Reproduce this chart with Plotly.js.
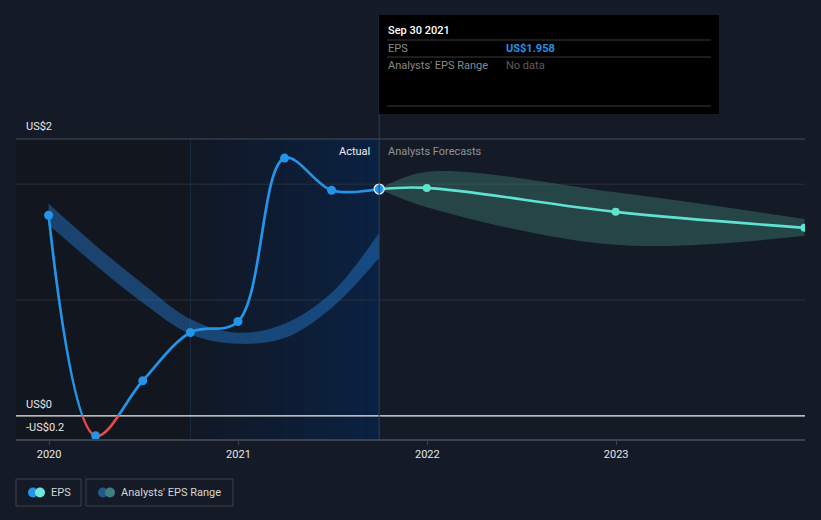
<!DOCTYPE html>
<html>
<head>
<meta charset="utf-8">
<script src="https://cdn.plot.ly/plotly-3.0.1.min.js"></script>
<style>
  html, body { margin: 0; padding: 0; background: #151b26; }
  #chart { width: 821px; height: 520px; }
</style>
</head>
<body>
<div id="chart"></div>
<script>
// ---- Data ----
const epsDates = ['2019-12-31','2020-03-31','2020-06-30','2020-09-30','2020-12-31','2021-03-31','2021-06-30','2021-09-30'];
const epsValues = [1.732, -0.173, 0.303, 0.719, 0.814, 2.225, 1.948, 1.958];

const pastRangeDates = ['2019-12-31','2020-03-31','2020-06-30','2020-09-30','2020-12-31','2021-03-31','2021-06-30','2021-09-30'];
const pastRangeHigh = [1.830, 1.470, 1.140, 0.835, 0.717, 0.795, 1.062, 1.580];
const pastRangeLow  = [1.649, 1.300, 0.976, 0.705, 0.622, 0.672, 0.932, 1.364];

const fcDates  = ['2021-09-30','2021-12-31','2022-12-31','2023-12-31'];
const fcValues = [1.958, 1.968, 1.761, 1.623];
const fcHigh   = [1.958, 2.107, 1.930, 1.700];
const fcLow    = [1.958, 1.800, 1.476, 1.554];

const xTickVals = ['2020-01-01','2021-01-01','2022-01-01','2023-01-01'];
const xTickText = ['2020','2021','2022','2023'];

const yGridVals = [1, 2];
const yLabelTexts = ['US$2', 'US$0', '-US$0.2'];

const pastRegion = ['2019-10-29', '2020-09-30'];
const actualRegion = ['2020-09-30', '2021-09-30'];
const todayDate = '2021-09-30';

const tooltip = { date: 'Sep 30 2021', eps: 'US$1.958', range: 'No data' };

// ---- Geometry ----
const W = 821, H = 520;
const M = { l: 16, r: 16, t: 139, b: 81 };
const plotW = W - M.l - M.r, plotH = H - M.t - M.b;
const yMin = -0.2, yMax = 2.39;
const zeroFrac = (0 - yMin) / (yMax - yMin);
const PX = px => (px - M.l) / plotW;
const PY = py => (H - M.b - py) / plotH;

const BLUE = '#2394e8', RED = '#e64a4a', TEAL = '#5fe3d0';
const FONT = 'Roboto, "Open Sans", Arial, sans-serif';

// ---- Shapes ----
const shapes = [];
shapes.push({ type: 'rect', xref: 'x', yref: 'paper', x0: pastRegion[0], x1: pastRegion[1], y0: 0, y1: 1,
  fillcolor: '#12161e', line: { width: 0 }, layer: 'below' });
(function () {
  const t0 = new Date(actualRegion[0]).getTime(), t1 = new Date(actualRegion[1]).getTime();
  const N = 48;
  const c0 = [17, 24, 36], c1 = [11, 33, 66];
  for (let i = 0; i < N; i++) {
    const f = (i + 0.5) / N;
    const c = c0.map((v, k) => Math.round(v + (c1[k] - v) * f));
    const end = i === N - 1 ? t1 : t0 + (t1 - t0) * (i + 2) / N;
    shapes.push({ type: 'rect', xref: 'x', yref: 'paper',
      x0: new Date(t0 + (t1 - t0) * i / N).toISOString(),
      x1: new Date(end).toISOString(),
      y0: 0, y1: 1, fillcolor: `rgb(${c[0]},${c[1]},${c[2]})`, line: { width: 0 }, layer: 'below' });
  }
})();
shapes.push({ type: 'line', xref: 'x', yref: 'paper', x0: actualRegion[0], x1: actualRegion[0], y0: 0, y1: 1,
  line: { color: '#182a44', width: 1 }, layer: 'below' });
shapes.push({ type: 'line', xref: 'paper', yref: 'paper', x0: 0, x1: 1, y0: 1, y1: 1,
  line: { color: '#464c5a', width: 1 }, layer: 'below' });
yGridVals.forEach(v => shapes.push({ type: 'line', xref: 'paper', yref: 'paper', x0: 0, x1: 1,
  y0: zeroFrac + v / (yMax - yMin), y1: zeroFrac + v / (yMax - yMin),
  line: { color: '#2a303c', width: 1 }, layer: 'below' }));
shapes.push({ type: 'line', xref: 'paper', yref: 'paper', x0: 0, x1: 1, y0: zeroFrac, y1: zeroFrac,
  line: { color: '#f0f0f0', width: 1.2 }, layer: 'below' });
shapes.push({ type: 'line', xref: 'x', yref: 'paper', x0: todayDate, x1: todayDate, y0: 0, y1: PY(15),
  line: { color: '#2e3e5a', width: 1 }, layer: 'above' });
shapes.push({ type: 'rect', xref: 'paper', yref: 'paper', x0: PX(379), x1: PX(719), y0: PY(114), y1: PY(15),
  fillcolor: '#000000', line: { width: 0 }, layer: 'above' });
[40, 57, 106].forEach(py => shapes.push({ type: 'line', xref: 'paper', yref: 'paper',
  x0: PX(387), x1: PX(711), y0: PY(py), y1: PY(py), line: { color: '#3a3a3a', width: 1 }, layer: 'above' }));
[[16, 81], [86, 233]].forEach(([a, b]) => shapes.push({ type: 'rect', xref: 'paper', yref: 'paper',
  x0: PX(a), x1: PX(b), y0: PY(506), y1: PY(479), line: { color: '#3a404c', width: 1 }, fillcolor: 'rgba(0,0,0,0)' }));
function circ(cx, cy, r, color) {
  shapes.push({ type: 'circle', xref: 'paper', yref: 'paper', x0: PX(cx - r), x1: PX(cx + r),
    y0: PY(cy + r), y1: PY(cy - r), fillcolor: color, line: { width: 0 } });
}
circ(33, 492.5, 5, BLUE); circ(40, 492.5, 5, '#6ee6dc');
circ(103, 492.5, 5, '#1f5a8a'); circ(110, 492.5, 5, '#3f807e');

// ---- Annotations ----
const ann = [];
function txt(px, py, text, color, size, anchor, weight) {
  ann.push({ xref: 'paper', yref: 'paper', x: PX(px), y: PY(py), text: text,
    showarrow: false, xanchor: anchor || 'left', yanchor: 'middle',
    font: { family: FONT, size: size || 11, color: color, weight: weight || 'normal' } });
}
txt(24, 127, yLabelTexts[0], '#e8e8e8', 11);
txt(24, 404, yLabelTexts[1], '#e8e8e8', 11);
txt(24, 427, yLabelTexts[2], '#e8e8e8', 11);
txt(372, 151, 'Actual', '#f0f0f0', 11, 'right');
txt(386, 151, 'Analysts Forecasts', '#8e939c', 11);
txt(386, 31, tooltip.date, '#ffffff', 11, 'left', 500);
txt(386, 48, 'EPS', '#8a8a8a', 11);
txt(504, 48, tooltip.eps, BLUE, 11, 'left', 'bold');
txt(386, 65, "Analysts' EPS Range", '#8a8a8a', 11);
txt(504, 65, tooltip.range, '#5e5e5e', 11);
txt(49, 492.5, 'EPS', '#d6d6d6', 11);
txt(119, 492.5, "Analysts' EPS Range", '#d6d6d6', 11);

// ---- Traces ----
const sp = { shape: 'spline', smoothing: 1, simplify: false };
const lastIdx = epsValues.length - 1;
const traces = [
  { x: pastRangeDates, y: pastRangeHigh, mode: 'lines', line: Object.assign({ width: 0 }, sp),
    hoverinfo: 'skip', showlegend: false },
  { x: pastRangeDates, y: pastRangeLow, mode: 'lines', line: Object.assign({ width: 0 }, sp),
    fill: 'tonexty', fillcolor: 'rgba(35,120,200,0.48)', hoverinfo: 'skip', showlegend: false },
  { x: fcDates, y: fcHigh, mode: 'lines', line: Object.assign({ width: 0 }, sp),
    hoverinfo: 'skip', showlegend: false },
  { x: fcDates, y: fcLow, mode: 'lines', line: Object.assign({ width: 0 }, sp),
    fill: 'tonexty', fillcolor: 'rgba(80,170,150,0.30)', hoverinfo: 'skip', showlegend: false },
  { x: fcDates, y: fcValues, mode: 'lines+markers', line: Object.assign({ color: TEAL, width: 2.6 }, sp),
    marker: { color: TEAL, size: 8, opacity: 1 }, hoverinfo: 'skip', showlegend: false },
  // EPS line, positive part (clipped to upper sub-axis)
  { x: epsDates, y: epsValues, mode: 'lines', line: Object.assign({ color: BLUE, width: 2.7 }, sp),
    hoverinfo: 'skip', showlegend: false },
  // EPS line, negative part (clipped to lower sub-axis)
  { x: epsDates, y: epsValues, yaxis: 'y2', mode: 'lines', line: Object.assign({ color: RED, width: 2.7 }, sp),
    hoverinfo: 'skip', showlegend: false },
  // EPS markers on full-height axis, drawn on top
  { x: epsDates, y: epsValues, yaxis: 'y3', mode: 'markers', cliponaxis: false,
    marker: { color: BLUE, opacity: 1,
      size: epsValues.map((v, i) => i === lastIdx ? 10 : 9),
      line: { color: epsValues.map((v, i) => i === lastIdx ? '#e8f0ff' : BLUE),
              width: epsValues.map((v, i) => i === lastIdx ? 1.3 : 0) } },
    hoverinfo: 'skip', showlegend: false }
];

const hidden = { showgrid: false, zeroline: false, showticklabels: false, ticks: '', fixedrange: true, anchor: 'x' };
const layout = {
  width: W, height: H,
  margin: M,
  paper_bgcolor: '#151b26', plot_bgcolor: 'rgba(0,0,0,0)',
  showlegend: false,
  font: { family: FONT, color: '#e0e0e0', size: 11 },
  xaxis: { type: 'date', anchor: 'y3', range: ['2019-10-29', '2024-01-01'], tickvals: xTickVals, ticktext: xTickText,
    showgrid: false, zeroline: false, showline: true, linecolor: '#3c4250', linewidth: 1.5,
    ticks: 'outside', ticklen: 4, tickcolor: '#3c4250', tickfont: { color: '#e6e6e6', size: 11, family: FONT },
    fixedrange: true },
  yaxis: Object.assign({ domain: [zeroFrac, 1], range: [0, yMax] }, hidden),
  yaxis2: Object.assign({ domain: [0, zeroFrac], range: [yMin, 0] }, hidden),
  yaxis3: Object.assign({ domain: [0, 1], range: [yMin, yMax] }, hidden),
  shapes: shapes,
  annotations: ann
};

Plotly.newPlot('chart', traces, layout, { displayModeBar: false, staticPlot: true });
</script>
</body>
</html>
